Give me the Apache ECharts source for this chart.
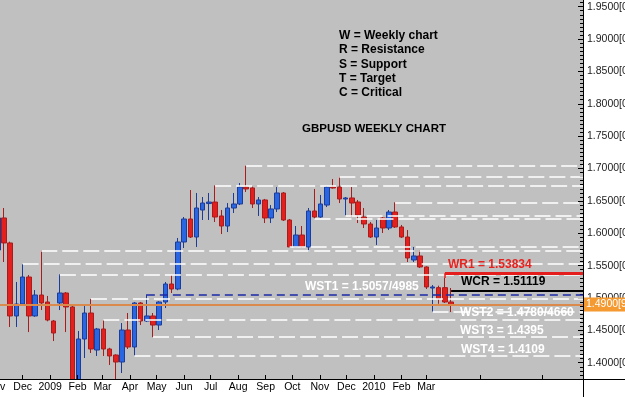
<!DOCTYPE html>
<html>
<head>
<meta charset="utf-8">
<script src="https://cdn.jsdelivr.net/npm/echarts@6.0.0/dist/echarts.min.js"></script>
<style>
  html, body { margin: 0; padding: 0; background: #fff; }
  #chart { width: 625px; height: 397px; }
</style>
</head>
<body>
<div id="chart"></div>
<script>
// weekly bars, first one is the week of 2008-11-03
const firstWeek = "2008-11-03"

// [open, close, low, high]
const weeklyOHLC = [
  [1.5741, 1.6236, 1.5649, 1.6328],
  [1.6236, 1.5850, 1.5556, 1.6390],
  [1.5850, 1.4722, 1.4552, 1.5870],
  [1.4722, 1.4907, 1.4552, 1.5247],
  [1.4907, 1.5324, 1.4890, 1.5525],
  [1.5324, 1.4722, 1.4474, 1.5355],
  [1.4722, 1.5046, 1.4710, 1.5123],
  [1.5046, 1.4923, 1.4814, 1.5737],
  [1.4938, 1.4660, 1.4640, 1.5031],
  [1.4644, 1.4459, 1.4335, 1.4660],
  [1.4923, 1.5077, 1.4814, 1.5366],
  [1.5077, 1.4861, 1.4474, 1.5092],
  [1.4861, 1.3650, 1.3503, 1.4880],
  [1.3680, 1.4366, 1.3560, 1.4490],
  [1.4366, 1.4768, 1.4073, 1.4892],
  [1.4768, 1.4212, 1.4150, 1.4985],
  [1.4196, 1.4521, 1.4104, 1.4537],
  [1.4521, 1.4212, 1.4104, 1.4660],
  [1.4212, 1.4104, 1.3965, 1.4230],
  [1.4119, 1.4011, 1.3657, 1.4130],
  [1.4011, 1.4505, 1.3841, 1.4613],
  [1.4505, 1.4243, 1.4212, 1.4768],
  [1.4243, 1.4923, 1.4109, 1.4938],
  [1.4923, 1.4644, 1.4582, 1.4938],
  [1.4644, 1.4722, 1.4630, 1.5057],
  [1.4722, 1.4582, 1.4395, 1.4768],
  [1.4582, 1.4938, 1.4505, 1.4950],
  [1.4938, 1.5216, 1.4845, 1.5247],
  [1.5216, 1.5139, 1.5077, 1.5355],
  [1.5139, 1.5865, 1.5120, 1.5927],
  [1.5865, 1.6220, 1.5772, 1.6251],
  [1.6220, 1.5942, 1.5927, 1.6668],
  [1.5942, 1.6390, 1.5788, 1.6622],
  [1.6359, 1.6467, 1.6205, 1.6560],
  [1.6459, 1.6482, 1.6205, 1.6622],
  [1.6482, 1.6251, 1.6174, 1.6740],
  [1.6267, 1.6112, 1.5988, 1.6359],
  [1.6112, 1.6390, 1.6019, 1.6467],
  [1.6390, 1.6452, 1.6313, 1.6622],
  [1.6452, 1.6714, 1.6436, 1.6776],
  [1.6714, 1.6684, 1.6637, 1.7043],
  [1.6700, 1.6452, 1.6390, 1.6720],
  [1.6452, 1.6514, 1.6267, 1.6560],
  [1.6514, 1.6236, 1.6158, 1.6530],
  [1.6236, 1.6375, 1.6158, 1.6436],
  [1.6375, 1.6622, 1.6328, 1.6714],
  [1.6622, 1.6205, 1.6190, 1.6637],
  [1.6205, 1.5788, 1.5788, 1.6220],
  [1.5788, 1.5973, 1.5780, 1.6112],
  [1.5973, 1.5788, 1.5775, 1.6112],
  [1.5788, 1.6344, 1.5710, 1.6390],
  [1.6344, 1.6251, 1.6228, 1.6684],
  [1.6251, 1.6452, 1.6240, 1.6591],
  [1.6436, 1.6714, 1.6405, 1.6730],
  [1.6714, 1.6699, 1.6690, 1.6838],
  [1.6714, 1.6529, 1.6467, 1.6877],
  [1.6529, 1.6545, 1.6277, 1.6560],
  [1.6545, 1.6467, 1.6251, 1.6714],
  [1.6483, 1.6282, 1.6158, 1.6514],
  [1.6251, 1.6143, 1.6081, 1.6390],
  [1.6143, 1.5942, 1.5927, 1.6174],
  [1.5942, 1.6081, 1.5819, 1.6205],
  [1.6236, 1.6081, 1.6004, 1.6251],
  [1.6081, 1.6328, 1.6050, 1.6359],
  [1.6328, 1.6097, 1.6081, 1.6478],
  [1.6097, 1.5942, 1.5927, 1.6128],
  [1.5942, 1.5618, 1.5556, 1.6050],
  [1.5587, 1.5649, 1.5556, 1.5788],
  [1.5649, 1.5479, 1.5463, 1.5741],
  [1.5479, 1.5170, 1.5139, 1.5490],
  [1.5154, 1.5170, 1.4780, 1.5200],
  [1.5160, 1.4990, 1.4910, 1.5190],
  [1.5160, 1.4938, 1.4923, 1.5309],
  [1.4938, 1.4900, 1.4783, 1.5154],
]

// white dashed support / resistance levels and the bar they start from
const levelPrices = [1.7043, 1.6877, 1.6740, 1.6478, 1.6277, 1.6228, 1.5788, 1.5737, 1.5525, 1.5366, 1.4985, 1.4780, 1.4660, 1.4395, 1.4109]
const levelFromBar = [40, 55, 35, 64, 56, 51, 47, 7, 4, 10, 15, 70, 17, 25, 22]

const wr1 = 1.53834
const wr1FromBar = 72
const wcr = 1.51119
const wcrFromBar = 73
const wst1 = 1.5057
const wst1FromBar = 24
const lastPrice = 1.49

const monthTickDates = ["2008-11-01", "2008-12-01", "2009-01-01", "2009-02-01", "2009-03-01", "2009-04-01", "2009-05-01",
  "2009-06-01", "2009-07-01", "2009-08-01", "2009-09-01", "2009-10-01", "2009-11-01", "2009-12-01", "2010-01-01",
  "2010-02-01", "2010-03-01"]
const monthTickLabels = ["Nov", "Dec", "2009", "Feb", "Mar", "Apr", "May", "Jun", "Jul", "Aug", "Sep", "Oct", "Nov", "Dec",
  "2010", "Feb", "Mar"]
const blankTickDates = ["2010-05-01", "2010-07-10"]

const priceTicks = [1.40, 1.45, 1.50, 1.55, 1.60, 1.65, 1.70, 1.75, 1.80, 1.85, 1.90, 1.95]

const keyLines = ["W = Weekly chart", "R = Resistance", "S = Support", "T = Target", "C = Critical"]
const chartTitle = "GBPUSD WEEKLY CHART"
const levelNotes = ["WR1 = 1.53834", "WCR = 1.51119", "WST1 = 1.5057/4985", "WST2 = 1.4780/4660", "WST3 = 1.4395", "WST4 = 1.4109"]

const WEEK = 7 * 864e5
const t0 = Date.parse(firstWeek + "T00:00:00Z")
function weekPos(d) {
  return (Date.parse(d + "T00:00:00Z") - t0) / WEEK
}

const xMin = -1.2544
const xMax = 94.237
const yMin = 1.37484
const yMax = 1.96035

const monthTickPos = monthTickDates.map(weekPos)
const allTickPos = monthTickPos.concat(blankTickDates.map(weekPos))

const minorTicks = []
for (let k = -6; k <= 90; k++) {
  const v = +(1.4 + k * 0.00625).toFixed(5)
  if (v > yMin && v < yMax) minorTicks.push(v)
}

const FONT = '"Liberation Sans", Arial, sans-serif'

function levelSegment(bar, price, style) {
  return [
    { coord: [bar, price], lineStyle: style },
    { coord: [xMax, price] },
  ]
}

const whiteDash = { color: "#ffffff", width: 1.6, type: [16, 5] }

const markLines = levelPrices.map((p, i) => levelSegment(levelFromBar[i], p, whiteDash))
markLines.push(levelSegment(wst1FromBar, wst1, { color: "#1b2aa6", width: 1.5, type: [8, 5] }))
markLines.push(levelSegment(wr1FromBar, wr1, { color: "#e41d1d", width: 3, type: "solid" }))
markLines.push([
  { coord: [wr1FromBar, wr1], lineStyle: { color: "#e41d1d", width: 1.5, type: "solid" } },
  { coord: [wr1FromBar, weeklyOHLC[wr1FromBar][3]] },
])
markLines.push(levelSegment(wcrFromBar, wcr, { color: "#000000", width: 2, type: "solid" }))
markLines.push({
  yAxis: lastPrice,
  lineStyle: { color: "#d98a4c", width: 2, type: "solid" },
  label: {
    show: true,
    position: "end",
    distance: 1,
    formatter: lastPrice.toFixed(4) + "[9]",
    backgroundColor: "#f49a31",
    color: "#ffffff",
    fontFamily: FONT,
    fontSize: 10.5,
    padding: [2, 3, 1, 2],
  },
})

const noteStyle = [
  { x: 448, y: 265, fill: "#e8231f" },
  { x: 461, y: 282, fill: "#000000" },
  { x: 305, y: 287, fill: "#ffffff" },
  { x: 460, y: 312.5, fill: "#ffffff" },
  { x: 460, y: 330.5, fill: "#ffffff" },
  { x: 461, y: 350, fill: "#ffffff" },
]

const graphics = []
// the strip under the time axis hides candle parts that run below the plot
graphics.push({ type: "rect", z: 5, shape: { x: 0, y: 380, width: 583, height: 17 }, style: { fill: "#ffffff" } })
keyLines.forEach((t, k) => {
  graphics.push({
    type: "text", x: 339, y: 35.7 + k * 14.25, z: 20,
    style: { text: t, font: "bold 12px " + FONT, fill: "#000", verticalAlign: "middle" },
  })
})
graphics.push({
  type: "text", x: 302, y: 129, z: 20,
  style: { text: chartTitle, font: "bold 11.5px " + FONT, fill: "#000", verticalAlign: "middle" },
})
levelNotes.forEach((t, k) => {
  graphics.push({
    type: "text", x: noteStyle[k].x, y: noteStyle[k].y, z: 20,
    style: { text: t, font: "bold 12px " + FONT, fill: noteStyle[k].fill, verticalAlign: "middle" },
  })
})
// axis lines run on past the plot corner
graphics.push({ type: "line", z: 20, shape: { x1: 583, y1: 379.5, x2: 625, y2: 379.5 }, style: { stroke: "#000", lineWidth: 1 } })
graphics.push({ type: "line", z: 20, shape: { x1: 583.5, y1: 379, x2: 583.5, y2: 397 }, style: { stroke: "#000", lineWidth: 1 } })

const chart = echarts.init(document.getElementById("chart"))

chart.setOption({
  backgroundColor: "#ffffff",
  animation: false,
  grid: {
    left: -10, right: 42, top: 0, bottom: 18,
    show: true, backgroundColor: "#c0c0c0", borderWidth: 0,
    containLabel: false, outerBoundsMode: "none",
  },
  xAxis: {
    type: "value",
    z: 10,
    min: xMin,
    max: xMax,
    axisLine: { show: true, onZero: false, lineStyle: { color: "#000", width: 1 } },
    axisTick: { show: true, inside: true, length: 4, customValues: allTickPos, lineStyle: { color: "#000" } },
    axisLabel: {
      customValues: monthTickPos,
      formatter: (v) => {
        const k = monthTickPos.findIndex((p) => Math.abs(p - v) < 1e-6)
        return k >= 0 ? monthTickLabels[k] : ""
      },
      color: "#000",
      fontFamily: FONT,
      fontSize: 10.5,
      margin: 3,
      hideOverlap: false,
      showMinLabel: true,
      showMaxLabel: true,
    },
    splitLine: { show: false },
  },
  yAxis: [
    {
      type: "value",
      position: "right",
      min: yMin,
      max: yMax,
      axisLine: { show: true, onZero: false, lineStyle: { color: "#000", width: 1 } },
      axisTick: { show: true, inside: true, length: 5, customValues: priceTicks, lineStyle: { color: "#000" } },
      axisLabel: {
        customValues: priceTicks,
        formatter: (v) => v.toFixed(4) + "[0]",
        color: "#222",
        fontFamily: FONT,
        fontSize: 10.5,
        margin: 4,
      },
      splitLine: { show: false },
    },
    {
      type: "value",
      position: "right",
      min: yMin,
      max: yMax,
      axisLine: { show: false, onZero: false },
      axisTick: { show: true, inside: true, length: 3, customValues: minorTicks, lineStyle: { color: "#000" } },
      axisLabel: { show: false },
      splitLine: { show: false },
    },
  ],
  series: [
    {
      type: "candlestick",
      data: weeklyOHLC.map((c, i) => [i, c[0], c[1], c[2], c[3]]),
      barWidth: 5,
      clip: true,
      itemStyle: {
        color: "#2a66e2",
        color0: "#e3201d",
        borderColor: "#1c3c9a",
        borderColor0: "#a81c1c",
        borderWidth: 1,
      },
      markLine: {
        silent: true,
        symbol: ["none", "none"],
        label: { show: false },
        data: markLines,
      },
    },
  ],
  graphic: graphics,
})
</script>
</body>
</html>
